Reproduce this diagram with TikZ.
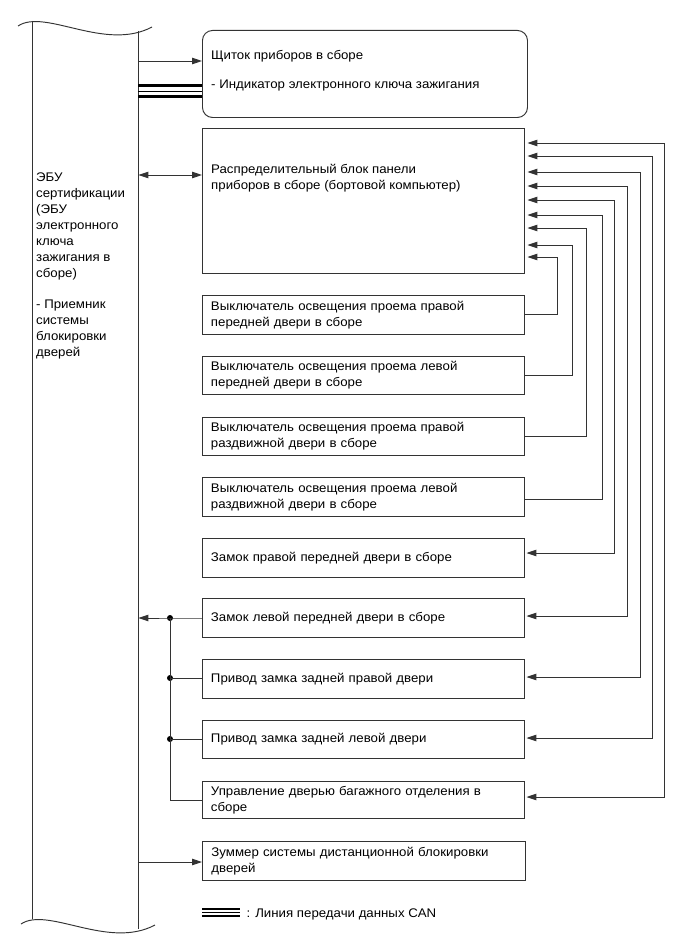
\documentclass[tikz,border=0pt]{standalone}
\usepackage{fontspec}
\setmainfont{Liberation Sans}[FakeStretch=1.06]
\usetikzlibrary{arrows.meta}
\begin{document}
\begin{tikzpicture}[x=1pt,y=-1pt,
  ln/.style={draw=black!80, line width=0.95pt},
  arr/.style={ln,-{Triangle[length=10pt,width=6.5pt]}},
  darr/.style={ln,{Triangle[length=10pt,width=6.5pt]}-{Triangle[length=10pt,width=6.5pt]}},
  bx/.style={ln, rectangle, anchor=north west, inner xsep=8.5pt, inner ysep=0pt,
    minimum width=322pt, text width=305pt, align=left,
    font=\fontsize{12.5}{16}\selectfont},
  txt/.style={inner sep=0pt, anchor=base west, font=\fontsize{12.5}{16}\selectfont},
  dot/.style={circle, fill=black, inner sep=0pt, minimum size=6pt}
]
\useasboundingbox (0,0) rectangle (689,950);

% ECU column
\node[inner sep=0pt, minimum width=106pt, minimum height=898pt, anchor=north west] (ecu) at (32,26) {};
\draw[ln] (18,26) .. controls (45,8) and (105,52) .. (152,27);
\draw[ln] (21,924) .. controls (48,906) and (108,950) .. (155,925);
\draw[ln] (32,21) -- (32,919);
\draw[ln] (138,31) -- (138,929);
\node[txt, anchor=north west, align=left] (ecutext) at (36,172.2)
  {ЭБУ\\сертификации\\(ЭБУ\\электронного\\ключа\\зажигания в\\сборе)\\[15.8pt]- Приемник\\системы\\блокировки\\дверей};

% Boxes
\node[bx, rounded corners=10pt, minimum width=325pt, minimum height=87pt] (b1) at (202,30) {};
\node[txt] (t1a) at (211,59.5) {Щиток приборов в сборе};
\node[txt] (t1b) at (211,88.5) {- Индикатор электронного ключа зажигания};

\node[bx, minimum height=145pt] (b2) at (202,128) {};
\node[txt] (t2a) at (211,173.5) {Распределительный блок панели};
\node[txt] (t2b) at (211,189.5) {приборов в сборе (бортовой компьютер)};

\node[bx, minimum height=39pt] (b3) at (202,295) {Выключатель освещения проема правой\\передней двери в сборе};
\node[bx, minimum height=38pt] (b4) at (202,356) {Выключатель освещения проема левой\\передней двери в сборе};
\node[bx, minimum height=38pt] (b5) at (202,417) {Выключатель освещения проема правой\\раздвижной двери в сборе};
\node[bx, minimum height=39pt] (b6) at (202,477) {Выключатель освещения проема левой\\раздвижной двери в сборе};
\node[bx, minimum height=39pt] (b7) at (202,538) {Замок правой передней двери в сборе};
\node[bx, minimum height=39pt] (b8) at (202,598) {Замок левой передней двери в сборе};
\node[bx, minimum height=39pt] (b9) at (202,659) {Привод замка задней правой двери};
\node[bx, minimum height=38pt] (b10) at (202,720) {Привод замка задней левой двери};
\node[bx, minimum height=37pt] (b11) at (202,781) {Управление дверью багажного отделения в\\сборе};
\node[bx, minimum height=39pt, minimum width=323pt] (b12) at (202,841) {Зуммер системы дистанционной блокировки\\дверей};

% Left connections
\draw[arr] (ecu.east |- 0,61) -- (b1.west |- 0,61);
\draw[black, line width=3.2pt] (ecu.east |- 0,85.6) -- (b1.west |- 0,85.6);
\draw[black, line width=1pt] (ecu.east |- 0,91) -- (b1.west |- 0,91);
\draw[black, line width=3.2pt] (ecu.east |- 0,96.8) -- (b1.west |- 0,96.8);
\draw[darr] (ecu.east |- 0,175) -- (b2.west |- 0,175);

\node[dot] (j1) at (170,618) {};
\node[dot] (j2) at (170,678) {};
\node[dot] (j3) at (170,739) {};
\coordinate (j4) at (170,800);
\draw[arr] (b8.west |- j1) -- (j1.center) -- (ecu.east |- j1);
\draw[ln] (j1.center) -- (j4) -- (b11.west |- j4);
\draw[ln] (j2.center) -- (b9.west |- j2);
\draw[ln] (j3.center) -- (b10.west |- j3);
\draw[arr] (ecu.east |- 0,862) -- (b12.west |- 0,862);

% Right bus
\foreach \b/\xv/\ya/\yb in {b3/557/257/314, b4/572/245/375, b5/586/228/436, b6/602/215/499}
  \draw[arr, shorten >=2.5pt] (\b.east |- 0,\yb) -- (\xv,\yb) -- (\xv,\ya) -- (b2.east |- 0,\ya);
\foreach \b/\xv/\ya/\yb in {b7/614/200/553, b8/627/186/616, b9/640/172/677, b10/652/156/738, b11/664/143/797}
  \draw[darr, shorten >=2.5pt, shorten <=1.5pt] (\b.east |- 0,\yb) -- (\xv,\yb) -- (\xv,\ya) -- (b2.east |- 0,\ya);

% Legend
\coordinate (lg1) at (202,912.5);
\coordinate (lg2) at (240,912.5);
\draw[black, line width=2.2pt] ([yshift=3.3pt]lg1) -- ([yshift=3.3pt]lg2);
\draw[black, line width=0.9pt] (lg1) -- (lg2);
\draw[black, line width=2.2pt] ([yshift=-3.3pt]lg1) -- ([yshift=-3.3pt]lg2);
\node[txt] (lgt) at (246.5,917) {: Линия передачи данных CAN};
\end{tikzpicture}
\end{document}
